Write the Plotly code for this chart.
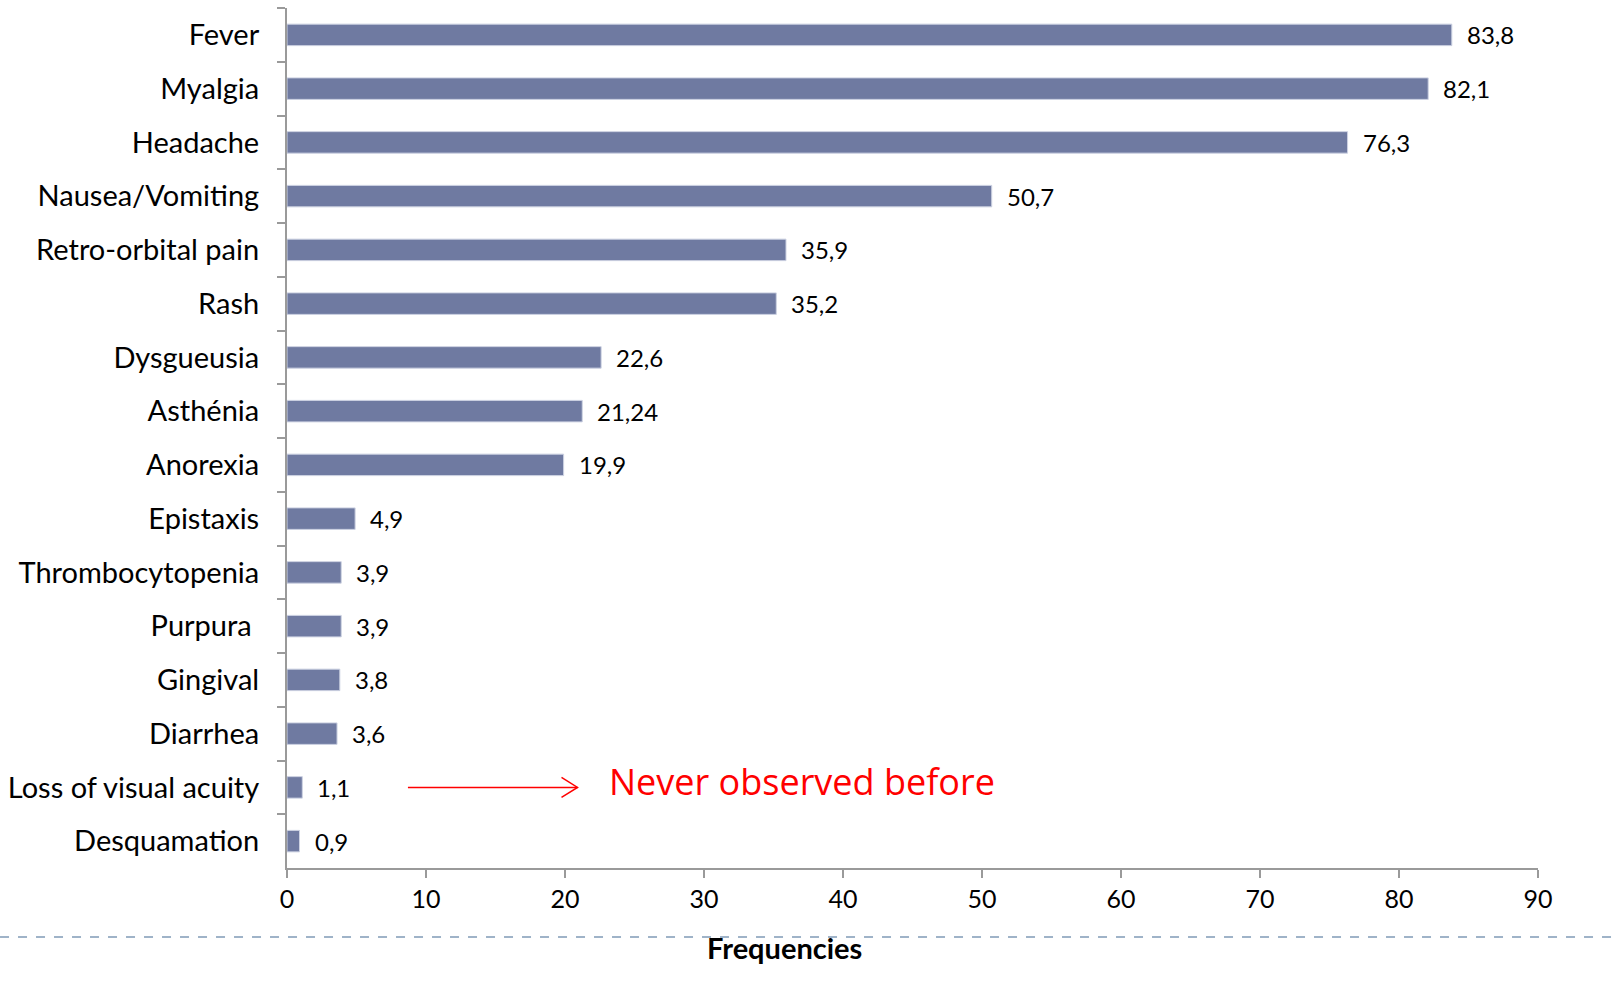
import plotly.graph_objects as go

categories = ["Fever", "Myalgia", "Headache", "Nausea/Vomiting", "Retro-orbital pain",
              "Rash", "Dysgueusia", "Asthénia", "Anorexia", "Epistaxis",
              "Thrombocytopenia", "Purpura\u00a0", "Gingival", "Diarrhea",
              "Loss of visual acuity", "Desquamation"]
values = [83.8, 82.1, 76.3, 50.7, 35.9, 35.2, 22.6, 21.24, 19.9, 4.9,
          3.9, 3.9, 3.8, 3.6, 1.1, 0.9]
value_labels = ["83,8", "82,1", "76,3", "50,7", "35,9", "35,2", "22,6", "21,24", "19,9",
                "4,9", "3,9", "3,9", "3,8", "3,6", "1,1", "0,9"]
x_ticks = [0, 10, 20, 30, 40, 50, 60, 70, 80, 90]

note_text = "Never observed before"
note_category = "Loss of visual acuity"
arrow_start, arrow_end, note_x = 8.7, 20.9, 23.0

FONT = "Lato"

fig = go.Figure()
fig.add_trace(go.Bar(
    x=values, y=categories, orientation="h",
    marker=dict(color="#6f7aa1", line=dict(color="#cdd2e2", width=1)),
    hoverinfo="x+y",
))

annotations = []
for v, c, t in zip(values, categories, value_labels):
    annotations.append(dict(x=v, y=c, xref="x", yref="y", text=t, showarrow=False,
                            xanchor="left", yanchor="middle", xshift=13,
                            font=dict(family=FONT, size=24, color="#000")))

annotations.append(dict(x=note_x, y=note_category, xref="x", yref="y", text=note_text,
                        showarrow=False, xanchor="left", yanchor="middle", yshift=6,
                        font=dict(family="Open Sans", size=36, color="#ff0000")))

annotations.append(dict(x=0.398, y=-0.092, xref="paper", yref="paper", text="<b>Frequencies</b>",
                        showarrow=False, xanchor="center", yanchor="middle",
                        font=dict(family=FONT, size=29, color="#000")))

shapes = [
    dict(type="line", xref="x", yref="y", x0=arrow_start, x1=arrow_end,
         y0=note_category, y1=note_category, line=dict(color="#ff0000", width=1.5)),
    dict(type="path", xref="x", yref="y", xsizemode="pixel", ysizemode="pixel",
         xanchor=arrow_end, yanchor=note_category, path="M-16,-10 L0,0 L-16,10",
         line=dict(color="#ff0000", width=1.5)),
    dict(type="line", xref="paper", yref="paper", x0=-0.2294, x1=1.0608, y0=-0.0802, y1=-0.0802,
         line=dict(color="#9fb3c8", width=2, dash="dash")),
]

fig.update_layout(
    width=1614, height=989,
    margin=dict(l=287, r=76, t=8, b=121),
    paper_bgcolor="white", plot_bgcolor="white",
    showlegend=False,
    bargap=0.6,
    annotations=annotations,
    shapes=shapes,
    font=dict(family=FONT, color="#000"),
)
fig.update_xaxes(range=[0, 90], tickvals=x_ticks, ticktext=[str(t) for t in x_ticks],
                 showgrid=False, zeroline=False, showline=True, linecolor="#9a9a9a", linewidth=2,
                 ticks="outside", ticklen=8, tickcolor="#9a9a9a", tickwidth=2,
                 tickfont=dict(family=FONT, size=25, color="#000"))
fig.update_yaxes(autorange="reversed", showgrid=False, showline=True, linecolor="#9a9a9a", linewidth=2,
                 ticks="outside", ticklen=8, tickcolor="#9a9a9a", tickwidth=2, tickson="boundaries",
                 ticklabelstandoff=20,
                 tickfont=dict(family=FONT, size=29, color="#000"))

fig.write_html("out.html", config={"displayModeBar": False},
               post_script="document.body.style.margin='0';document.body.style.overflow='hidden';")
